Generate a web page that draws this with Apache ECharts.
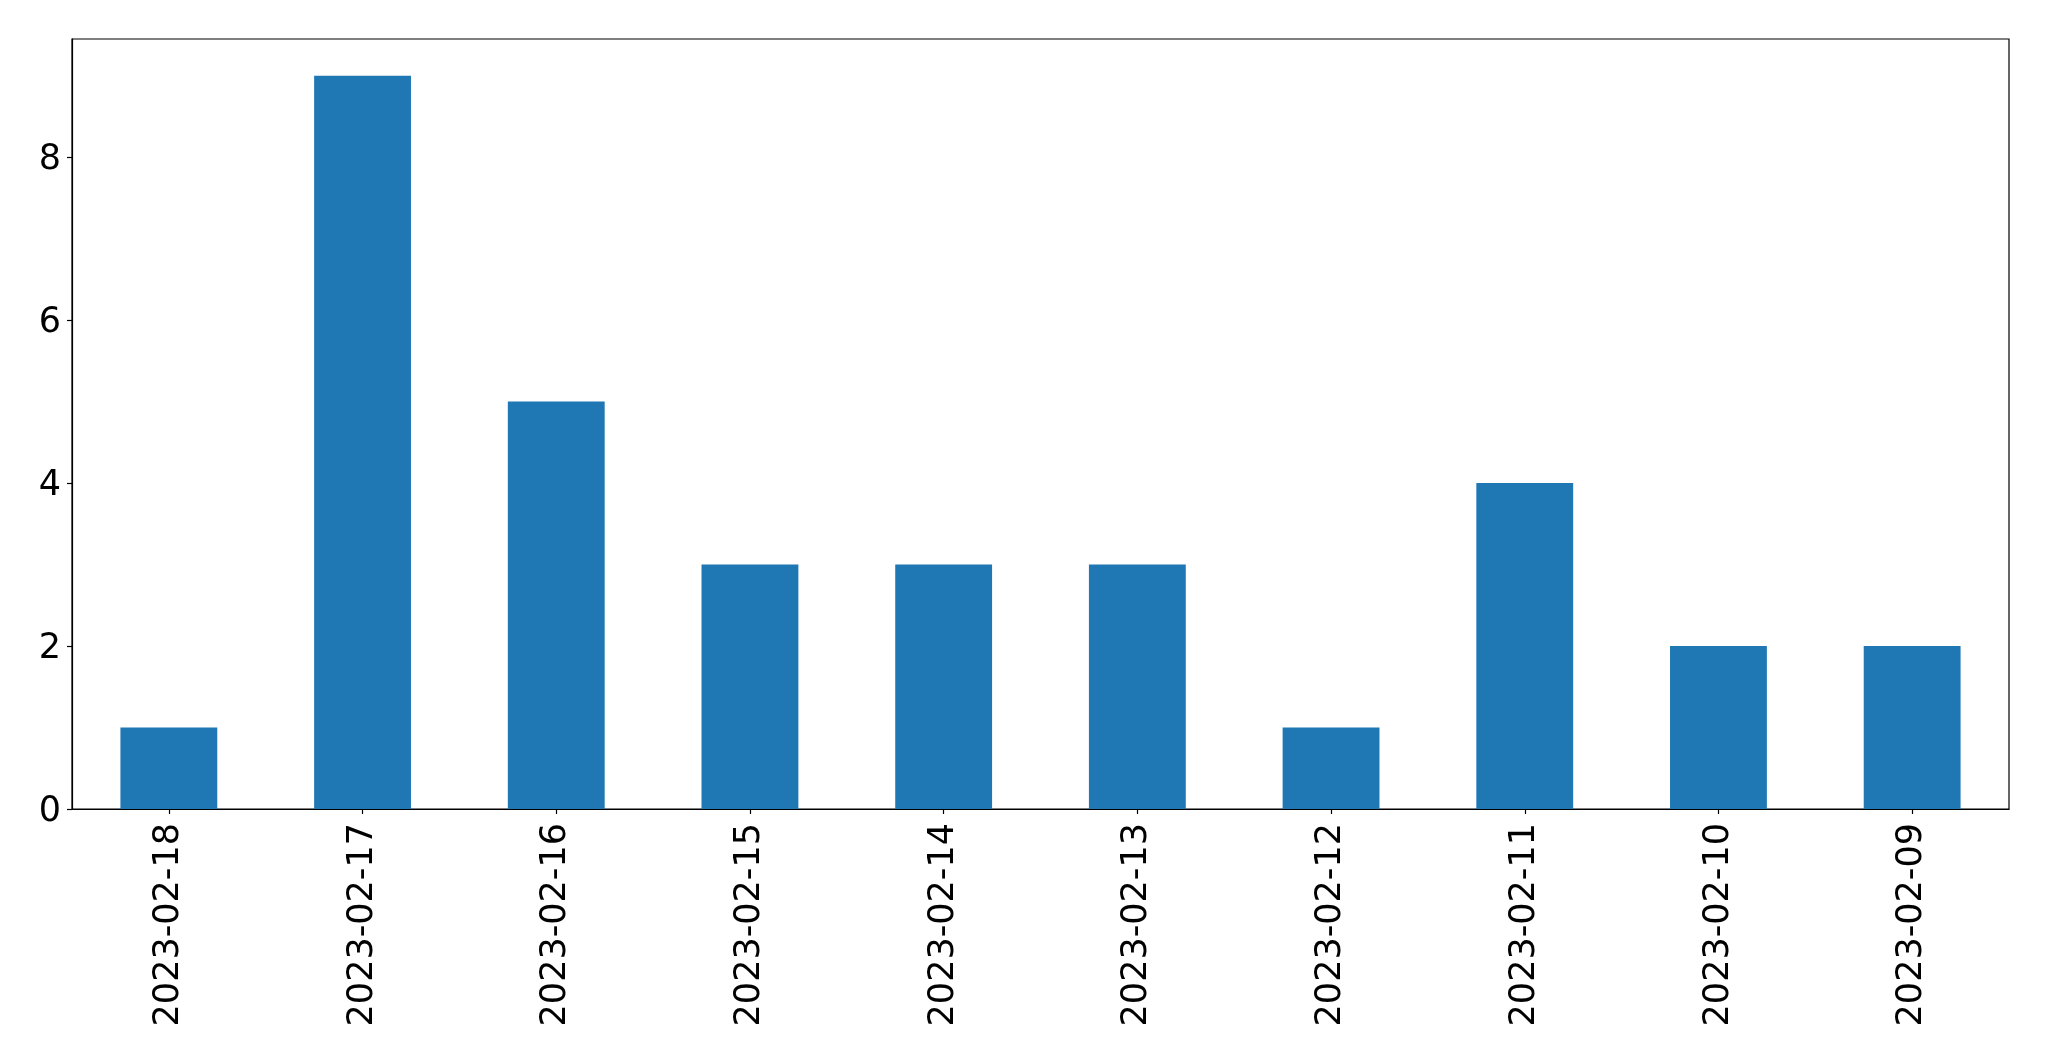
<!DOCTYPE html>
<html>
<head>
<meta charset="utf-8">
<script src="https://cdn.jsdelivr.net/npm/echarts@6/dist/echarts.min.js"></script>
<style>
html,body{margin:0;padding:0;background:#fff;}
#chart{width:2049px;height:1061px;}
</style>
</head>
<body>
<div id="chart"></div>
<script>
const categories = ['2023-02-18','2023-02-17','2023-02-16','2023-02-15','2023-02-14','2023-02-13','2023-02-12','2023-02-11','2023-02-10','2023-02-09'];
const values = [1, 9, 5, 3, 3, 3, 1, 4, 2, 2];
const yTicks = [0, 2, 4, 6, 8];

const chart = echarts.init(document.getElementById('chart'), null, {renderer: 'canvas'});
const font = 'DejaVu Sans';
chart.setOption({
  animation: false,
  backgroundColor: '#ffffff',
  grid: {
    left: 72, right: 40, top: 39, bottom: 252,
    show: true, borderColor: '#000', borderWidth: 1.2, backgroundColor: 'transparent'
  },
  xAxis: {
    type: 'category',
    data: categories,
    axisLine: {show: true, lineStyle: {color: '#000', width: 1.2}},
    axisTick: {show: true, alignWithLabel: true, length: 5, lineStyle: {color: '#000', width: 1.2}},
    axisLabel: {rotate: 90, margin: 14, color: '#000', fontFamily: font, fontSize: 35, interval: 0},
    splitLine: {show: false}
  },
  yAxis: {
    type: 'value',
    min: 0,
    max: 9.45,
    interval: 2,
    axisLine: {show: true, lineStyle: {color: '#000', width: 1.2}},
    axisTick: {show: true, length: 5, lineStyle: {color: '#000', width: 1.2}, customValues: yTicks},
    axisLabel: {
      margin: 11, color: '#000', fontFamily: font, fontSize: 35, customValues: yTicks,
      formatter: function (v) { return '{t|' + v + '}'; },
      rich: {t: {fontFamily: font, fontSize: 35, color: '#000', padding: [6, 0, 0, 0]}}
    },
    splitLine: {show: false}
  },
  series: [{
    type: 'bar',
    data: values,
    barWidth: '50%',
    itemStyle: {color: '#1f77b4'}
  }]
});
</script>
</body>
</html>
